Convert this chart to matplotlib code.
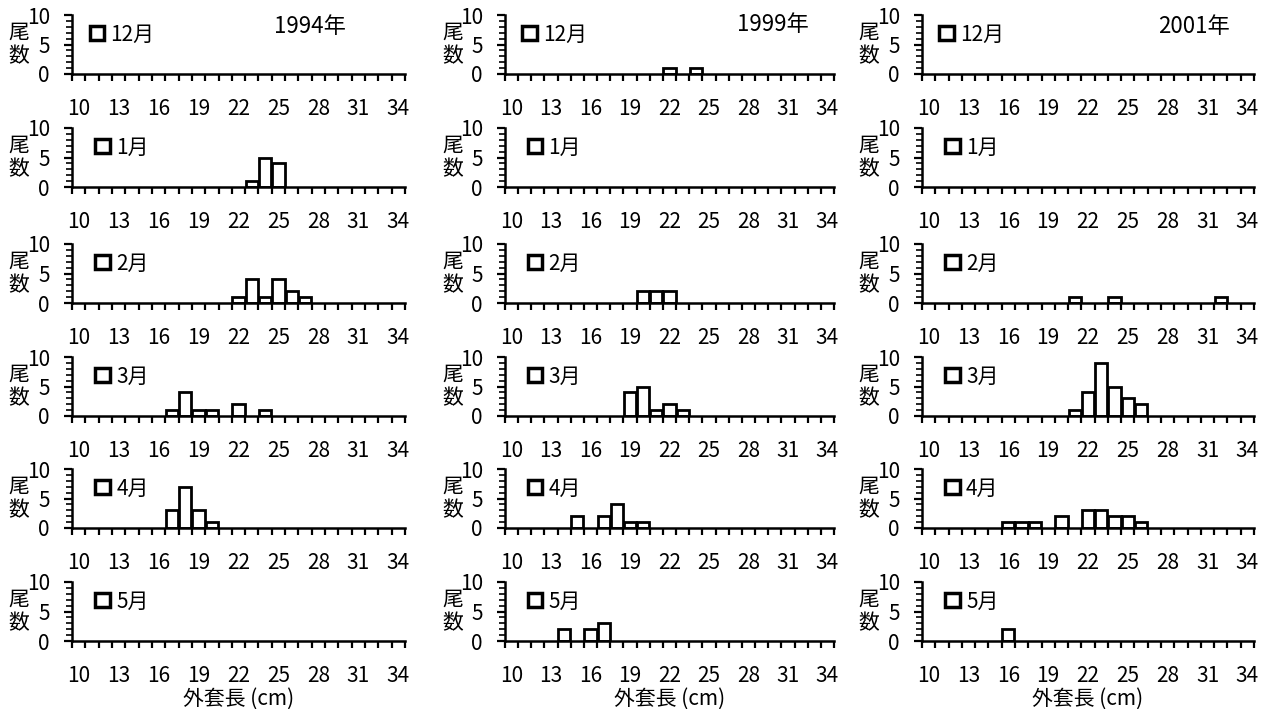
import matplotlib
matplotlib.use("Agg")
import matplotlib.pyplot as plt
from matplotlib.patches import Patch
from matplotlib.ticker import MultipleLocator

plt.rcParams['font.family'] = ['Liberation Sans Narrow', 'Noto Sans CJK JP', 'DejaVu Sans']

# 外套長 classes (cm)
lengths = list(range(10, 35))
tick_labels = [str(v) for v in range(10, 35, 3)]
months = ["12月", "1月", "2月", "3月", "4月", "5月"]
years = ["1994年", "1999年", "2001年"]

# counts per month: {length: count}
counts_1994 = [
    {},
    {23: 1, 24: 5, 25: 4},
    {22: 1, 23: 4, 24: 1, 25: 4, 26: 2, 27: 1},
    {17: 1, 18: 4, 19: 1, 20: 1, 22: 2, 24: 1},
    {17: 3, 18: 7, 19: 3, 20: 1},
    {},
]
counts_1999 = [
    {22: 1, 24: 1},
    {},
    {20: 2, 21: 2, 22: 2},
    {19: 4, 20: 5, 21: 1, 22: 2, 23: 1},
    {15: 2, 17: 2, 18: 4, 19: 1, 20: 1},
    {14: 2, 16: 2, 17: 3},
]
counts_2001 = [
    {},
    {},
    {21: 1, 24: 1, 32: 1},
    {21: 1, 22: 4, 23: 9, 24: 5, 25: 3, 26: 2},
    {16: 1, 17: 1, 18: 1, 20: 2, 22: 3, 23: 3, 24: 2, 25: 2, 26: 1},
    {16: 2},
]
all_counts = [counts_1994, counts_1999, counts_2001]

W, H = 1266, 709
fig = plt.figure(figsize=(W / 100, H / 100), dpi=100)

col_left = [72, 505, 922]
col_width = [333, 329, 332]
row_top = [15, 128, 244, 357, 469, 582]
row_h = 59
year_pos = [(0.715, 0.80), (0.815, 0.84), (0.82, 0.80)]

for c in range(3):
    for r in range(6):
        ax = fig.add_axes([col_left[c] / W, 1 - (row_top[r] + row_h) / H,
                           col_width[c] / W, row_h / H])
        data = all_counts[c][r]
        xs = [i for i, v in enumerate(lengths) if v in data]
        hs = [data[lengths[i]] for i in xs]
        ax.bar(xs, hs, width=0.92, color='white', edgecolor='black', linewidth=2)
        ax.set_xlim(-0.5, len(lengths) - 0.5)
        ax.set_ylim(0, 10)
        for s in ['top', 'right']:
            ax.spines[s].set_visible(False)
        for s in ['left', 'bottom']:
            ax.spines[s].set_linewidth(1.8)
        ax.set_xticks(range(0, len(lengths), 3))
        ax.set_xticklabels(tick_labels)
        ax.set_xticks([i - 0.5 for i in range(len(lengths) + 1)], minor=True)
        ax.tick_params(axis='x', which='major', length=0, pad=17, labelsize=15)
        ax.tick_params(axis='x', which='minor', length=5, width=1.6, direction='out')
        ax.set_yticks([0, 5, 10])
        ax.yaxis.set_minor_locator(MultipleLocator(1))
        ax.tick_params(axis='y', which='major', length=6, width=1.6, pad=10, labelsize=15)
        ax.tick_params(axis='y', which='minor', length=4, width=1.2)
        ax.set_ylabel("尾\n数", rotation=0, fontsize=15, linespacing=1.05, va='center')
        ax.yaxis.set_label_coords(-0.16, 0.5)
        handle = Patch(facecolor='white', edgecolor='black', linewidth=2.5)
        ax.legend(handles=[handle], labels=[months[r]], loc='center',
                  bbox_to_anchor=(0.15, 0.67), frameon=False, fontsize=15,
                  handlelength=0.7, handleheight=0.7, handletextpad=0.3,
                  borderpad=0, borderaxespad=0)
        if r == 0:
            ax.text(year_pos[c][0], year_pos[c][1], years[c], transform=ax.transAxes,
                    ha='center', va='center', fontsize=16)
        if r == 5:
            ax.set_xlabel("外套長 (cm)", fontsize=15, labelpad=1)

fig.savefig("out.png", dpi=100)
